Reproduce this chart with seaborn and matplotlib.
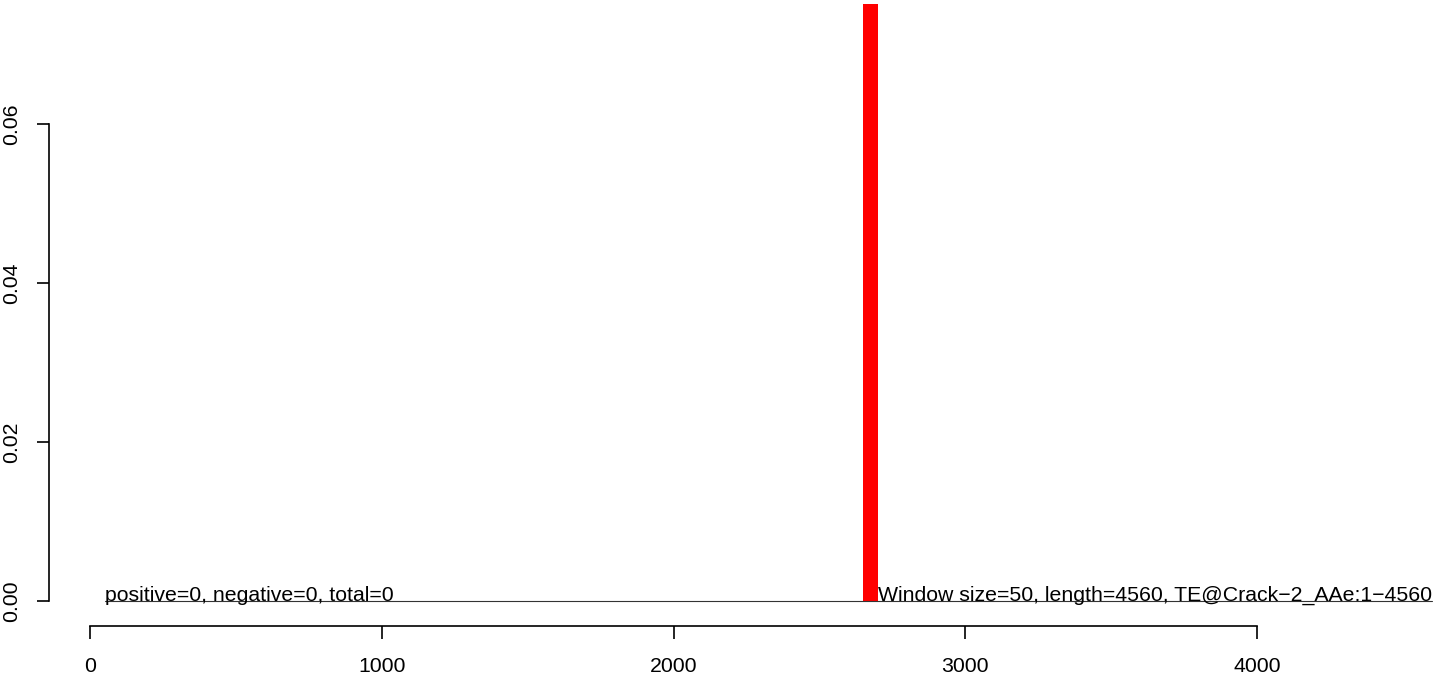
"""Sliding-window TE density plot (single window hit)."""

import matplotlib

matplotlib.use("Agg")
import matplotlib.pyplot as plt
import seaborn as sns

# window bins with a non-zero score
WINDOW_START = [2650]
WINDOW_END = [2700]
WINDOW_VALUE = [0.078]

SEQ_START = 50
SEQ_END = 4600
X_TICKS = [0, 1000, 2000, 3000, 4000]
Y_TICKS = [0.00, 0.02, 0.04, 0.06]
Y_TICK_LABELS = ["0.00", "0.02", "0.04", "0.06"]
LEFT_LABEL = "positive=0, negative=0, total=0"
RIGHT_LABEL = "Window size=50, length=4560, TE@Crack\u22122_AAe:1\u22124560"

W, H = 1444, 676
FS = 15.3


def main() -> None:
    sns.set_style("white")
    plt.rcParams["font.family"] = ["Liberation Sans", "DejaVu Sans"]
    plt.rcParams["text.color"] = "black"
    plt.rcParams["xtick.color"] = "black"
    plt.rcParams["ytick.color"] = "black"

    fig = plt.figure(figsize=(W / 100, H / 100), dpi=100)
    # axes placed so the data area matches the reference pixel layout
    x0, x1 = -150, 4640
    y0, y1 = -0.0035, 0.0751
    px = lambda v: 90 + v * 0.29175
    py = lambda v: 601 - v * 7950
    ax = fig.add_axes([
        px(x0) / W,
        1 - py(y0) / H,
        (px(x1) - px(x0)) / W,
        (py(y0) - py(y1)) / H,
    ])

    mids = [(s + e) / 2 for s, e in zip(WINDOW_START, WINDOW_END)]
    edges = sorted(set(WINDOW_START + WINDOW_END))
    sns.histplot(
        x=mids,
        weights=WINDOW_VALUE,
        bins=edges,
        color="red",
        alpha=1,
        edgecolor="none",
        linewidth=0,
        ax=ax,
    )

    ax.plot([SEQ_START, SEQ_END], [0, 0], color="#333333", lw=0.8)
    ax.text(SEQ_START, 0, LEFT_LABEL, ha="left", va="baseline", fontsize=FS)
    ax.text(SEQ_END, 0, RIGHT_LABEL, ha="right", va="baseline", fontsize=FS)

    ax.set_xlim(x0, x1)
    ax.set_ylim(y0, y1)
    ax.set_xlabel("")
    ax.set_ylabel("")

    for side in ("top", "right"):
        ax.spines[side].set_visible(False)
    ax.spines["left"].set_position(("data", (49 - 90) / 0.29175))
    ax.spines["left"].set_bounds(Y_TICKS[0], Y_TICKS[-1])
    ax.spines["bottom"].set_position(("data", (601 - 626) / 7950))
    ax.spines["bottom"].set_bounds(X_TICKS[0], X_TICKS[-1])
    for side in ("left", "bottom"):
        ax.spines[side].set_linewidth(1.2)
        ax.spines[side].set_color("black")

    ax.set_xticks(X_TICKS)
    ax.set_xticklabels([str(t) for t in X_TICKS])
    ax.set_yticks(Y_TICKS)
    ax.set_yticklabels(Y_TICK_LABELS, rotation=90, va="center")
    ax.tick_params(axis="both", direction="out", length=9, width=1.2,
                   color="black", labelsize=FS)
    ax.tick_params(axis="x", pad=13)
    ax.tick_params(axis="y", pad=11)
    ax.tick_params(left=True, bottom=True)

    fig.savefig("out.png", dpi=100)
    plt.close(fig)


if __name__ == "__main__":
    main()
